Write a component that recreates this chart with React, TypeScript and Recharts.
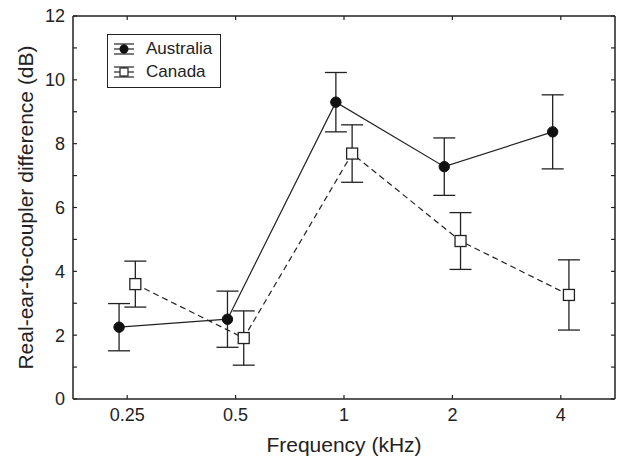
import { LineChart, Line, XAxis, YAxis, ErrorBar, Legend } from "recharts";

// frequency categories (kHz)
const frequencies = ["0.25", "0.5", "1", "2", "4"];

// mean RECD and error (± dB) per frequency
const australiaMean = [2.25, 2.5, 9.3, 7.28, 8.37];
const australiaErr = [0.74, 0.88, 0.93, 0.9, 1.16];
const canadaMean = [3.6, 1.91, 7.69, 4.95, 3.26];
const canadaErr = [0.72, 0.85, 0.9, 0.89, 1.1];

const yTicks = [0, 1, 2, 3, 4, 5, 6, 7, 8, 9, 10, 11, 12];
const yLabelTicks = [0, 2, 4, 6, 8, 10, 12];

const INK = "#222";
const FONT = '"Liberation Sans", Arial, Helvetica, sans-serif';
const SHIFT = 0.075; // groups sit a little either side of the tick

const xTicks = frequencies.map((_, i) => i);
const australia = australiaMean.map((v, i) => ({ x: i - SHIFT, y: v, err: australiaErr[i] }));
const canada = canadaMean.map((v, i) => ({ x: i + SHIFT, y: v, err: canadaErr[i] }));

const TICK_LEN = 4;

function BottomTick({ x, y, payload }: any) {
  return (
    <g>
      <line x1={x} x2={x} y1={y} y2={y - TICK_LEN} stroke={INK} strokeWidth={1.2} />
      <text x={x} y={y + 9} dy="0.71em" textAnchor="middle" fontSize={18} fill={INK} fontFamily={FONT}>
        {frequencies[payload.value]}
      </text>
    </g>
  );
}

function TopTick({ x, y }: any) {
  return <line x1={x} x2={x} y1={y} y2={y + TICK_LEN} stroke={INK} strokeWidth={1.2} />;
}

function LeftTick({ x, y, payload }: any) {
  return (
    <g>
      <line x1={x} x2={x + TICK_LEN} y1={y} y2={y} stroke={INK} strokeWidth={1.2} />
      {yLabelTicks.includes(payload.value) && (
        <text x={x - 8} y={y} dy="0.36em" textAnchor="end" fontSize={18} fill={INK} fontFamily={FONT}>
          {payload.value}
        </text>
      )}
    </g>
  );
}

function RightTick({ x, y }: any) {
  return <line x1={x} x2={x - TICK_LEN} y1={y} y2={y} stroke={INK} strokeWidth={1.2} />;
}

function SquareDot({ cx, cy, index }: any) {
  return (
    <rect key={index} x={cx - 5.5} y={cy - 5.5} width={11} height={11} fill="#fff" stroke={INK} strokeWidth={1.3} />
  );
}

function LegendSymbol({ square }: { square?: boolean }) {
  return (
    <svg width={22} height={16} style={{ display: "block" }}>
      <line x1={1} x2={21} y1={3} y2={3} stroke={INK} strokeWidth={1.2} />
      <line x1={1} x2={21} y1={8} y2={8} stroke={INK} strokeWidth={1.2} />
      <line x1={1} x2={21} y1={13} y2={13} stroke={INK} strokeWidth={1.2} />
      <line x1={11} x2={11} y1={3} y2={13} stroke={INK} strokeWidth={1.2} />
      {square ? (
        <rect x={7} y={4} width={8} height={8} fill="#fff" stroke={INK} strokeWidth={1.2} />
      ) : (
        <circle cx={11} cy={8} r={4.5} fill="#111" />
      )}
    </svg>
  );
}

function renderLegend() {
  const items = [
    { name: "Australia", square: false },
    { name: "Canada", square: true },
  ];
  return (
    <div
      style={{
        border: `1.2px solid ${INK}`,
        background: "#fff",
        width: 112,
        height: 50,
        boxSizing: "content-box",
        paddingTop: 2,
        fontFamily: FONT,
        fontSize: 17,
        color: INK,
      }}
    >
      {items.map((it) => (
        <div key={it.name} style={{ display: "flex", alignItems: "center", height: 23, paddingLeft: 5 }}>
          <LegendSymbol square={it.square} />
          <span style={{ marginLeft: 11 }}>{it.name}</span>
        </div>
      ))}
    </div>
  );
}

export default function App() {
  return (
    <div style={{ position: "absolute", left: 0, top: 0, background: "#fff" }}>
      <LineChart width={620} height={458} margin={{ top: 15, right: 4, bottom: 0, left: 0 }}>
        <XAxis
          xAxisId={0}
          type="number"
          dataKey="x"
          domain={[-0.5, 4.5]}
          ticks={xTicks}
          allowDataOverflow
          height={59}
          tickSize={0}
          tickMargin={0}
          tickLine={false}
          axisLine={{ stroke: INK, strokeWidth: 1.5 }}
          tick={<BottomTick />}
          label={{
            content: ({ viewBox }: any) => (
              <text
                x={viewBox.x + viewBox.width / 2}
                y={viewBox.y + 53}
                textAnchor="middle"
                fontSize={21}
                fill={INK}
                fontFamily={FONT}
              >
                Frequency (kHz)
              </text>
            ),
          }}
        />
        <XAxis
          xAxisId="top"
          orientation="top"
          type="number"
          dataKey="x"
          domain={[-0.5, 4.5]}
          ticks={xTicks}
          allowDataOverflow
          height={1}
          tickSize={0}
          tickMargin={0}
          tickLine={false}
          axisLine={{ stroke: INK, strokeWidth: 1.5 }}
          tick={<TopTick />}
        />
        <YAxis
          yAxisId={0}
          type="number"
          domain={[0, 12]}
          ticks={yTicks}
          allowDataOverflow
          width={73}
          tickSize={0}
          tickMargin={0}
          tickLine={false}
          axisLine={{ stroke: INK, strokeWidth: 1.5 }}
          tick={<LeftTick />}
          label={{
            content: ({ viewBox }: any) => {
              const cx = viewBox.x + 33;
              const cy = viewBox.y + viewBox.height / 2;
              return (
                <text
                  x={cx}
                  y={cy}
                  transform={`rotate(-90, ${cx}, ${cy})`}
                  textAnchor="middle"
                  fontSize={21}
                  fill={INK}
                  fontFamily={FONT}
                >
                  Real-ear-to-coupler difference (dB)
                </text>
              );
            },
          }}
        />
        <YAxis
          yAxisId="right"
          orientation="right"
          type="number"
          domain={[0, 12]}
          ticks={yTicks}
          allowDataOverflow
          width={1}
          tickSize={0}
          tickMargin={0}
          tickLine={false}
          axisLine={{ stroke: INK, strokeWidth: 1.5 }}
          tick={<RightTick />}
        />
        <Legend
          verticalAlign="middle"
          align="center"
          content={renderLegend}
          wrapperStyle={{ left: 107, top: 34, width: "auto", height: "auto" }}
        />
        <Line
          data={canada}
          dataKey="y"
          name="Canada"
          type="linear"
          stroke={INK}
          strokeWidth={1.2}
          strokeDasharray="6 4"
          dot={<SquareDot />}
          activeDot={false}
          isAnimationActive={false}
        >
          <ErrorBar dataKey="err" direction="y" width={11} stroke={INK} strokeWidth={1.3} isAnimationActive={false} />
        </Line>
        <Line
          data={australia}
          dataKey="y"
          name="Australia"
          type="linear"
          stroke={INK}
          strokeWidth={1.2}
          dot={{ r: 5.2, fill: "#111", stroke: "#111", strokeWidth: 1 }}
          activeDot={false}
          isAnimationActive={false}
        >
          <ErrorBar dataKey="err" direction="y" width={11} stroke={INK} strokeWidth={1.3} isAnimationActive={false} />
        </Line>
      </LineChart>
    </div>
  );
}
